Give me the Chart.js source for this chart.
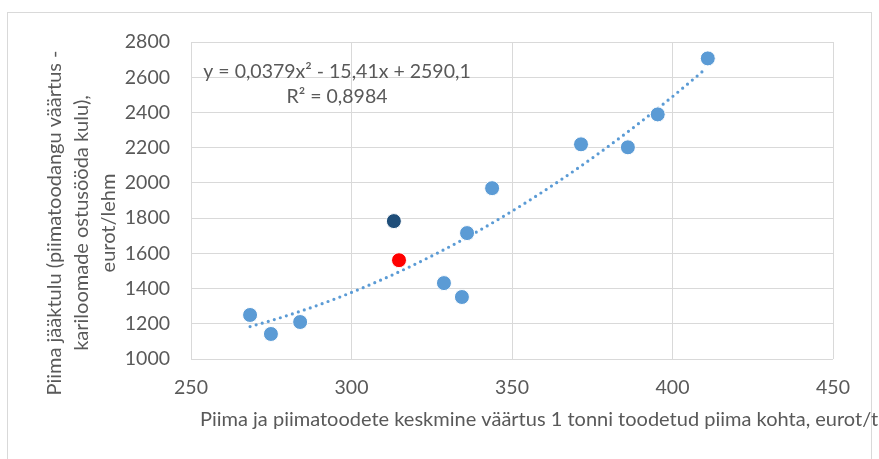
<!DOCTYPE html>
<html>
<head>
<meta charset="utf-8">
<script src="https://cdn.jsdelivr.net/npm/chart.js@4.4.1/dist/chart.umd.min.js"></script>
<style>
  html, body { margin: 0; padding: 0; background: #fff; }
</style>
</head>
<body>
<canvas id="scatterChart" width="879" height="459"></canvas>
<script>
// farms: average value of milk products (eur/t) vs milk residual income (eur/cow)
const milkValue = [268.4, 274.9, 284.0, 328.8, 334.4, 336.0, 343.8, 371.5, 386.1, 395.4, 411.0];
const residualIncome = [1250, 1142, 1210, 1431, 1352, 1715, 1970, 2219, 2202, 2389, 2707];
const darkPoint = [313.2, 1783];
const redPoint = [314.8, 1561];

// polynomial trendline (order 2) as given in the chart
const trendCoef = [0.0379, -15.41, 2590.1];
const trendRange = [268.4, 411.0];
const eqLines = ['y = 0,0379x² - 15,41x + 2590,1', 'R² = 0,8984'];

const xTicks = [250, 300, 350, 400, 450];
const yTicks = [1000, 1200, 1400, 1600, 1800, 2000, 2200, 2400, 2600, 2800];

const xTitle = 'Piima ja piimatoodete keskmine väärtus 1 tonni toodetud piima kohta, eurot/t';
const yTitle = ['Piima jääktulu (piimatoodangu väärtus -', 'kariloomade ostusööda kulu),', 'eurot/lehm'];

const FONT = 'Lato, "Open Sans", sans-serif';
const TEXT_COLOR = '#595959';
const GRID_COLOR = '#d9d9d9';

const extrasPlugin = {
    id: 'extras',
    beforeDatasetsDraw(chart) {
        const { ctx, scales: { x, y } } = chart;
        ctx.save();
        ctx.beginPath();
        for (let v = trendRange[0]; v <= trendRange[1] + 0.001; v += 1) {
            const val = trendCoef[0] * v * v + trendCoef[1] * v + trendCoef[2];
            const px = x.getPixelForValue(v);
            const py = y.getPixelForValue(val);
            if (v === trendRange[0]) ctx.moveTo(px, py); else ctx.lineTo(px, py);
        }
        ctx.strokeStyle = '#5b9bd5';
        ctx.lineWidth = 3.2;
        ctx.lineCap = 'round';
        ctx.setLineDash([0, 6.3]);
        ctx.stroke();
        ctx.restore();
    },
    afterDraw(chart) {
        const { ctx } = chart;
        ctx.save();
        // outer chart frame
        ctx.strokeStyle = GRID_COLOR;
        ctx.lineWidth = 1;
        ctx.strokeRect(7.5, 12.5, 864, 470);

        ctx.fillStyle = TEXT_COLOR;
        ctx.textAlign = 'center';
        ctx.textBaseline = 'middle';

        // trendline equation
        ctx.font = '19.5px ' + FONT;
        ctx.fillText(eqLines[0], 337, 72);
        ctx.fillText(eqLines[1], 337, 97);

        // y axis title, three rotated lines
        ctx.font = '20px ' + FONT;
        yTitle.forEach((line, i) => {
            ctx.save();
            ctx.translate(55 + i * 27, 223);
            ctx.rotate(-Math.PI / 2);
            ctx.fillText(line, 0, 0);
            ctx.restore();
        });

        // x axis title
        ctx.textAlign = 'left';
        ctx.fillText(xTitle, 200, 420);
        ctx.restore();
    }
};

document.addEventListener('DOMContentLoaded', function() {
    const canvasEl = document.getElementById('scatterChart');
    const ctx = canvasEl.getContext('2d');

    new Chart(ctx, {
        type: 'scatter',
        data: {
            datasets: [
                {
                    data: milkValue.map((v, i) => ({ x: v, y: residualIncome[i] })),
                    backgroundColor: '#5b9bd5',
                    borderColor: '#ffffff',
                    borderWidth: 1,
                    pointRadius: 7.5
                },
                {
                    data: [{ x: darkPoint[0], y: darkPoint[1] }],
                    backgroundColor: '#1f4e79',
                    borderColor: '#ffffff',
                    borderWidth: 1,
                    pointRadius: 7.5
                },
                {
                    data: [{ x: redPoint[0], y: redPoint[1] }],
                    backgroundColor: '#ff0000',
                    borderColor: '#ffffff',
                    borderWidth: 1,
                    pointRadius: 7.5
                }
            ]
        },
        options: {
            responsive: false,
            animation: false,
            layout: {
                padding: { top: 42, right: 46, left: 0, bottom: 0 }
            },
            plugins: {
                legend: { display: false },
                tooltip: { enabled: false }
            },
            scales: {
                x: {
                    type: 'linear',
                    min: xTicks[0],
                    max: xTicks[xTicks.length - 1],
                    afterBuildTicks: s => { s.ticks = xTicks.map(v => ({ value: v })); },
                    afterFit: s => { s.height = 100; },
                    grid: { color: GRID_COLOR, drawTicks: false },
                    border: { display: false },
                    ticks: {
                        padding: 17,
                        color: TEXT_COLOR,
                        font: { family: FONT, size: 19.5 },
                        callback: v => String(v)
                    }
                },
                y: {
                    type: 'linear',
                    min: yTicks[0],
                    max: yTicks[yTicks.length - 1],
                    afterBuildTicks: s => { s.ticks = yTicks.map(v => ({ value: v })); },
                    afterFit: s => { s.width = 191; },
                    grid: { color: GRID_COLOR, drawTicks: false },
                    border: { display: false },
                    ticks: {
                        padding: 21,
                        color: TEXT_COLOR,
                        font: { family: FONT, size: 19.5 },
                        callback: v => String(v)
                    }
                }
            }
        },
        plugins: [extrasPlugin]
    });
});
</script>
</body>
</html>
